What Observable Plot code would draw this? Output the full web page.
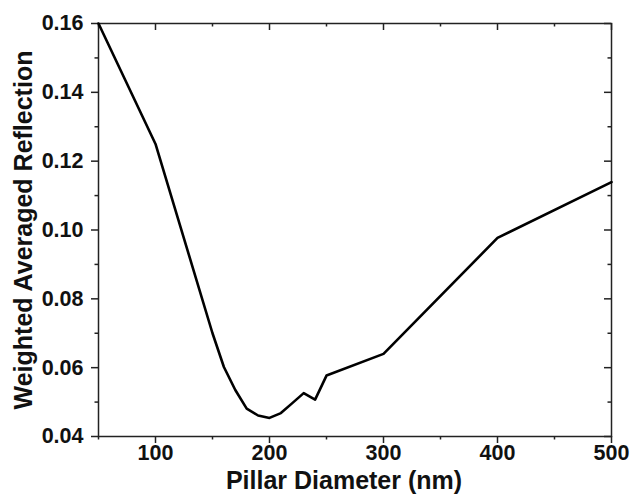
<!DOCTYPE html>
<html>
<head>
<meta charset="utf-8">
<script src="https://cdn.jsdelivr.net/npm/d3@7"></script>
<script src="https://cdn.jsdelivr.net/npm/@observablehq/plot@0.6"></script>
<style>
  html, body { margin: 0; padding: 0; background: #fff; }
  #chart svg { display: block; }
</style>
</head>
<body>
<div id="chart"></div>
<script>
// Weighted averaged reflection versus pillar diameter
const diameter = [50, 100, 150, 160, 170, 180, 190, 200, 210, 220, 230, 240, 250, 300, 400, 500];
const reflection = [0.160, 0.125, 0.070, 0.0602, 0.0535, 0.0481, 0.0461, 0.0454, 0.0468, 0.0497, 0.0526, 0.0507, 0.0577, 0.0640, 0.0977, 0.1139];

const xMajor = [100, 200, 300, 400, 500];
const xMinor = [50, 150, 250, 350, 450];
const yMajor = [0.04, 0.06, 0.08, 0.10, 0.12, 0.14, 0.16];
const yMinor = [0.05, 0.07, 0.09, 0.11, 0.13, 0.15];
const xTickLabels = ["100", "200", "300", "400", "500"];
const yTickLabels = ["0.04", "0.06", "0.08", "0.10", "0.12", "0.14", "0.16"];

const xTitle = "Pillar Diameter (nm)";
const yTitle = "Weighted Averaged Reflection";

const data = diameter.map((d, i) => ({diameter: d, reflection: reflection[i]}));
const xLabelData = xMajor.map((v, i) => ({v, label: xTickLabels[i]}));
const yLabelData = yMajor.map((v, i) => ({v, label: yTickLabels[i]}));

const W = 631, H = 499;
const mL = 98, mR = 20, mT = 23, mB = 63;
const plotW = W - mL - mR, plotH = H - mT - mB;
const major = 7, minor = 3.5;
const axisColor = "#222";
const font = "'Liberation Sans', Arial, Helvetica, sans-serif";

const chart = Plot.plot({
  width: W,
  height: H,
  marginLeft: mL,
  marginRight: mR,
  marginTop: mT,
  marginBottom: mB,
  x: {domain: [50, 500], axis: null},
  y: {domain: [0.04, 0.16], axis: null},
  style: {background: "#fff", fontFamily: font},
  marks: [
    Plot.frame({stroke: axisColor, strokeWidth: 1.5}),
    // bottom ticks (outward)
    Plot.ruleX(xMajor, {x: d => d, insetTop: plotH, insetBottom: -major, stroke: axisColor, strokeWidth: 1.5}),
    Plot.ruleX(xMinor, {x: d => d, insetTop: plotH, insetBottom: -minor, stroke: axisColor, strokeWidth: 1.5}),
    // top ticks (inward)
    Plot.ruleX(xMajor, {x: d => d, insetBottom: plotH - major, stroke: axisColor, strokeWidth: 1.5}),
    Plot.ruleX(xMinor, {x: d => d, insetBottom: plotH - minor, stroke: axisColor, strokeWidth: 1.5}),
    // left ticks (outward)
    Plot.ruleY(yMajor, {y: d => d, insetLeft: -major, insetRight: plotW, stroke: axisColor, strokeWidth: 1.5}),
    Plot.ruleY(yMinor, {y: d => d, insetLeft: -minor, insetRight: plotW, stroke: axisColor, strokeWidth: 1.5}),
    // right ticks (inward)
    Plot.ruleY(yMajor, {y: d => d, insetLeft: plotW - major, stroke: axisColor, strokeWidth: 1.5}),
    Plot.ruleY(yMinor, {y: d => d, insetLeft: plotW - minor, stroke: axisColor, strokeWidth: 1.5}),
    // tick labels
    Plot.text(xLabelData, {x: "v", text: "label", frameAnchor: "bottom", dy: 23, fontSize: 21.5, fontWeight: "bold", fill: "#111"}),
    Plot.text(yLabelData, {y: "v", text: "label", frameAnchor: "left", textAnchor: "end", dx: -15, fontSize: 21.5, fontWeight: "bold", fill: "#111"}),
    // axis titles
    Plot.text([xTitle], {text: d => d, frameAnchor: "bottom", dx: -11, dy: 52, fontSize: 25, fontWeight: "bold", fill: "#111"}),
    Plot.text([yTitle], {text: d => d, frameAnchor: "left", textAnchor: "middle", rotate: -90, dx: -75, fontSize: 25, fontWeight: "bold", fill: "#111"}),
    // the curve
    Plot.line(data, {x: "diameter", y: "reflection", stroke: "#000", strokeWidth: 2.6, strokeLinejoin: "round"})
  ]
});

document.getElementById("chart").appendChild(chart);
</script>
</body>
</html>
